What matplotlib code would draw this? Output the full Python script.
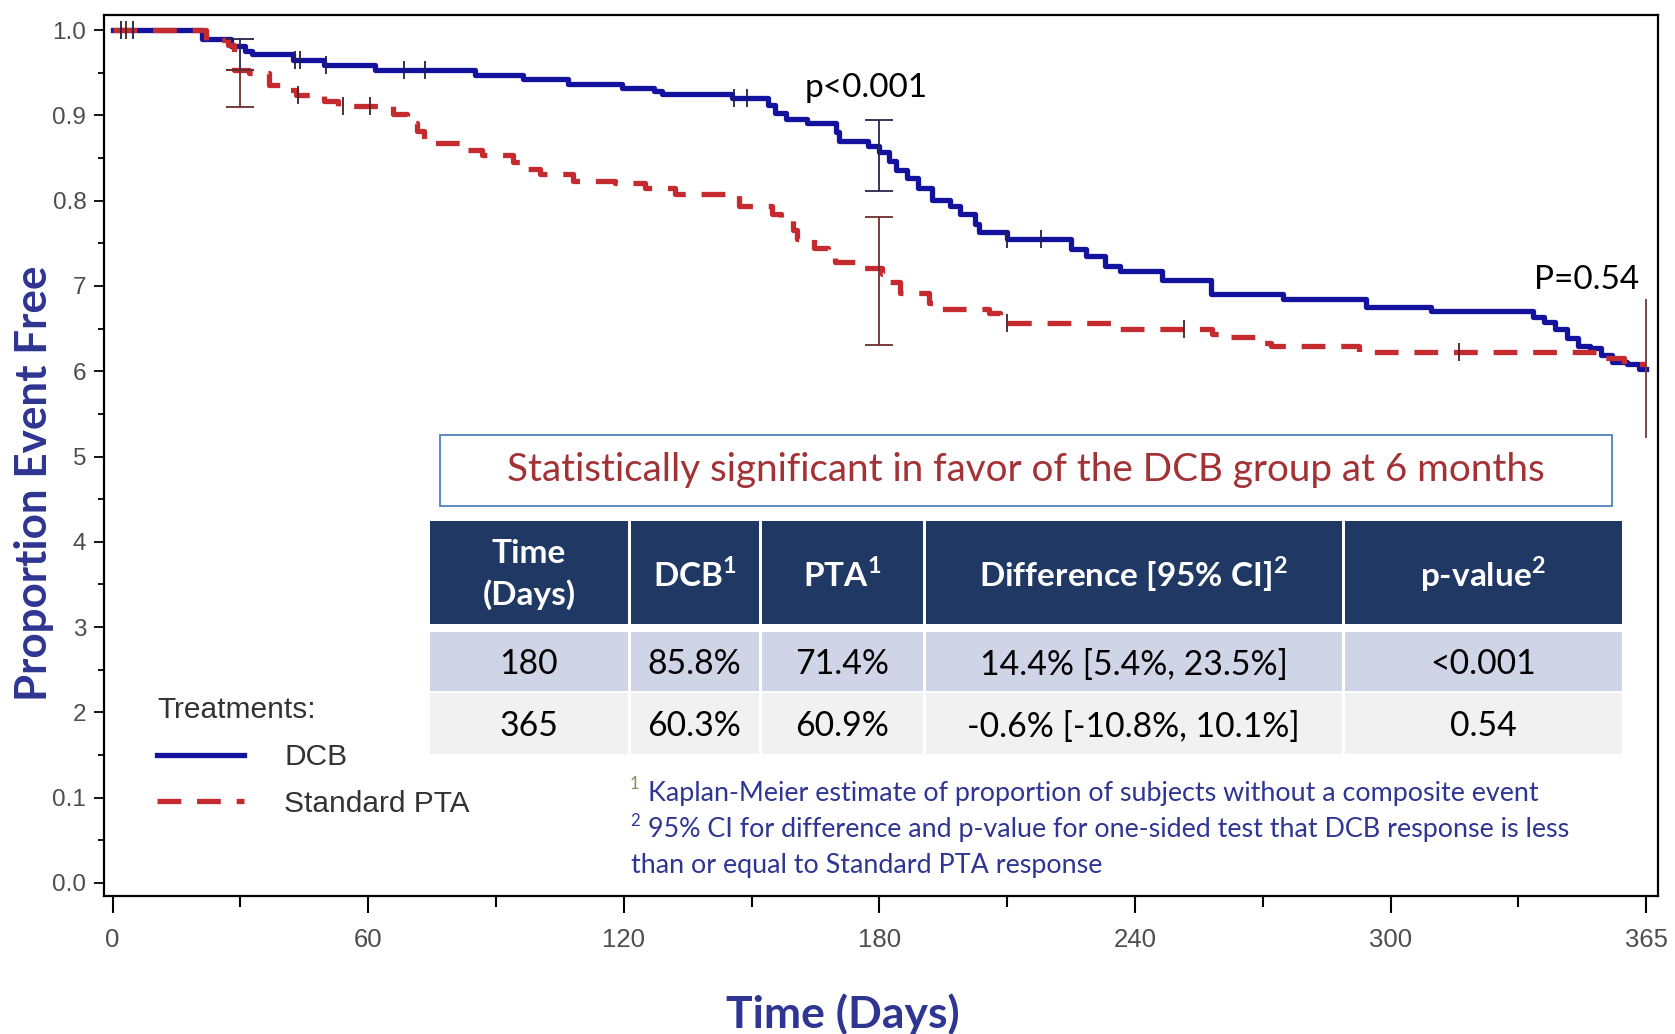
import matplotlib.pyplot as plt
import numpy as np
from matplotlib.lines import Line2D
from matplotlib.patches import Rectangle

plt.rcParams['font.family'] = 'Liberation Sans'
plt.rcParams['mathtext.fontset'] = 'custom'
plt.rcParams['mathtext.rm'] = 'Lato'
plt.rcParams['mathtext.bf'] = 'Lato:bold'

W, H = 1675, 1034

######################### dados #########################
# Kaplan-Meier DCB (dias, proporcao livre de evento)
dcb_days = [0, 21, 27.8, 31, 32.7, 42.3, 49.6, 61.7, 85, 96.4,
            107, 119.5, 127, 129, 145.5, 153.8, 155.5, 158, 163, 169.8,
            170.6, 177.3, 179.8, 182.3, 184, 186.5, 189, 192.4, 196.6, 199,
            202.5, 203.3, 210, 225, 228.5, 233, 236.5, 246.3, 257.8, 274.7,
            294.3, 309.4, 333.4, 336, 338.7, 341.4, 344, 346.7, 349.4, 352,
            355.6, 358.3, 360]
dcb_surv = [1.0, 0.990, 0.981, 0.975, 0.972, 0.965, 0.959, 0.953, 0.947, 0.942,
            0.937, 0.932, 0.928, 0.925, 0.920, 0.912, 0.903, 0.896, 0.891, 0.881,
            0.870, 0.864, 0.857, 0.846, 0.836, 0.827, 0.815, 0.801, 0.794, 0.784,
            0.772, 0.763, 0.755, 0.743, 0.735, 0.723, 0.717, 0.707, 0.691, 0.685,
            0.675, 0.670, 0.664, 0.658, 0.650, 0.639, 0.630, 0.627, 0.619, 0.611,
            0.609, 0.603, 0.603]

# Kaplan-Meier Standard PTA
pta_days = [0, 21.8, 27, 28.6, 31.9, 36.7, 40, 43, 49.6, 52.8,
            65.7, 69, 71.4, 73, 82.7, 86.7, 94, 95.6, 100.4, 108,
            118, 125, 132, 147, 154.7, 157, 159.7, 160.6, 164.7, 168,
            169.5, 174.8, 180.7, 182.3, 184.9, 191.6, 193.2, 205.8, 208.3, 210,
            234.7, 258, 262, 268.5, 272, 292.5, 349.5, 354.7, 360]
pta_surv = [1.0, 0.988, 0.983, 0.953, 0.950, 0.936, 0.930, 0.924, 0.917, 0.911,
            0.901, 0.891, 0.882, 0.868, 0.859, 0.853, 0.845, 0.837, 0.831, 0.823,
            0.821, 0.815, 0.808, 0.794, 0.784, 0.778, 0.765, 0.755, 0.745, 0.735,
            0.728, 0.721, 0.714, 0.705, 0.692, 0.680, 0.673, 0.668, 0.660, 0.656,
            0.649, 0.644, 0.640, 0.633, 0.629, 0.623, 0.615, 0.609, 0.609]

# censuras (dias)
dcb_cens = [2, 4.8, 42.7, 44, 50, 68.5, 73.4, 145.9, 148.8, 210, 218]
pta_cens = [3.2, 43.5, 54, 60.5, 210, 251.6, 316]

# intervalos de confianca
ci_days = [30, 180]
dcb_ci_low = [0.953, 0.811]
dcb_ci_high = [0.989, 0.894]
pta_ci_low = [0.910, 0.631]
pta_ci_high = [0.953, 0.781]
end_ci_day = 360
end_ci_low, end_ci_high = 0.522, 0.685

x_ticks = [0, 60, 120, 180, 240, 300, 360]
x_tick_labels = ['0', '60', '120', '180', '240', '300', '365']
y_ticks = [0.0, 0.1, 0.2, 0.3, 0.4, 0.5, 0.6, 0.7, 0.8, 0.9, 1.0]
y_tick_labels = ['0.0', '0.1', '2', '3', '4', '5', '6', '7', '0.8', '0.9', '1.0']

table_header = ['Time\n(Days)', r'DCB$^{\mathbf{1}}$', r'PTA$^{\mathbf{1}}$',
                r'Difference [95% CI]$^{\mathbf{2}}$', r'p-value$^{\mathbf{2}}$']
table_rows = [['180', '85.8%', '71.4%', '14.4% [5.4%, 23.5%]', '<0.001'],
              ['365', '60.3%', '60.9%', '-0.6% [-10.8%, 10.1%]', '0.54']]
##########################################################################

blue = '#12129E'
red = '#C42A2E'
navy_text = '#2E3592'

def step_at(days, surv, t):
    idx = np.searchsorted(days, t, side='right') - 1
    return np.asarray(surv)[idx]

def fx(px):
    return px / W

def fy(py):
    return 1 - py / H

fig = plt.figure(figsize=(W / 100, H / 100), dpi=100)
ax = fig.add_axes([0.0623, 0.1335, 0.9899 - 0.0623, 0.9855 - 0.1335])

ax.step(dcb_days, dcb_surv, where='post', color=blue, lw=3.8, zorder=3)
ax.step(pta_days, pta_surv, where='post', color=red, lw=3.8,
        linestyle=(0, (4.5, 3.0)), zorder=4)

ax.plot(dcb_cens, step_at(dcb_days, dcb_surv, dcb_cens), linestyle='none',
        marker='|', ms=13, mew=1.3, color='#20204a', zorder=5)
ax.plot(pta_cens, step_at(pta_days, pta_surv, pta_cens), linestyle='none',
        marker='|', ms=13, mew=1.3, color='#4a2020', zorder=5)

# barras de IC
dcb_mid = (np.array(dcb_ci_low) + np.array(dcb_ci_high)) / 2
pta_mid = (np.array(pta_ci_low) + np.array(pta_ci_high)) / 2
ax.errorbar(ci_days, dcb_mid, yerr=(dcb_mid - np.array(dcb_ci_low), np.array(dcb_ci_high) - dcb_mid),
            fmt='none', ecolor='#252550', elinewidth=1.3, capsize=10, capthick=1.3, zorder=6)
ax.errorbar(ci_days, pta_mid, yerr=(pta_mid - np.array(pta_ci_low), np.array(pta_ci_high) - pta_mid),
            fmt='none', ecolor='#6e2e2e', elinewidth=1.3, capsize=10, capthick=1.3, zorder=6)
ax.vlines(end_ci_day, end_ci_low, end_ci_high, color='#6e3a3a', lw=1.3, zorder=6)

ax.text(177, 0.932, 'p<0.001', family='Lato', fontsize=24, ha='center', va='center', color='black')
ax.text(346, 0.707, 'P=0.54', family='Lato', fontsize=24, ha='center', va='center', color='black')

ax.set_xlim(-1.95, 362.8)
ax.set_ylim(-0.0152, 1.0176)
ax.set_xticks(x_ticks)
ax.set_xticklabels(x_tick_labels)
ax.set_xticks([30, 90, 150, 210, 270, 330], minor=True)
ax.set_yticks(y_ticks)
ax.set_yticklabels(y_tick_labels)
ax.set_yticks([0.05, 0.15, 0.25, 0.35, 0.45, 0.55, 0.65, 0.75, 0.85, 0.95], minor=True)
ax.tick_params(axis='x', which='major', length=12, width=1.5, pad=11, labelsize=18.5, labelcolor='#4d4d4d')
ax.tick_params(axis='x', which='minor', length=8, width=1.5)
ax.tick_params(axis='y', which='major', length=7, width=1.3, pad=6, labelsize=17.5, labelcolor='#4d4d4d')
ax.tick_params(axis='y', which='minor', length=4, width=1.3)
for s in ax.spines.values():
    s.set_linewidth(1.6)

ax.set_xlabel('Time (Days)', family='Lato', fontweight='bold', fontsize=32, color=navy_text)
ax.set_ylabel('Proportion Event Free', family='Lato', fontweight='bold', fontsize=31.7, color=navy_text)
ax.xaxis.label.set_va('center')
ax.yaxis.label.set_va('center')
ax.xaxis.set_label_coords(0.475, -0.134)
ax.yaxis.set_label_coords(-0.0455, 0.468)

# legenda
handles = [Line2D([], [], color=blue, lw=3.8),
           Line2D([], [], color=red, lw=3.8, linestyle=(0, (4.5, 3.0)))]
leg = ax.legend(handles, ['DCB', 'Standard PTA'], title='Treatments:', loc='upper left',
                bbox_to_anchor=(10.5, 0.219), bbox_transform=ax.transData, frameon=False,
                prop={'family': 'Liberation Sans', 'size': 21.5},
                title_fontproperties={'family': 'Liberation Sans', 'size': 21.5},
                handlelength=2.9, handletextpad=1.35, labelspacing=0.63,
                borderpad=0, borderaxespad=0, alignment='left', labelcolor='#333333')
leg.get_title().set_color('#333333')

# caixa de destaque
fig.add_artist(Rectangle((fx(440), fy(506)), fx(1612 - 440), (506 - 435) / H,
                         transform=fig.transFigure, fill=False, edgecolor='#4F81BD', lw=1.3))
fig.text(fx(1026), fy(470.5), 'Statistically significant in favor of the DCB group at 6 months',
         family='Lato', fontsize=27.8, color='#A23235', ha='center', va='center')

# tabela
col_edges = [429, 629, 760, 924, 1343, 1623]
row_edges = [(521, 624), (632, 691), (693, 754)]
row_colors = ['#203864', '#CFD5E6', '#F1F1F1']
for r, (y0, y1) in enumerate(row_edges):
    texts = table_header if r == 0 else table_rows[r - 1]
    for c in range(len(col_edges) - 1):
        x0, x1 = col_edges[c], col_edges[c + 1]
        fig.add_artist(Rectangle((fx(x0 + 1.5), fy(y1)), (x1 - x0 - 3) / W, (y1 - y0) / H,
                                 transform=fig.transFigure, facecolor=row_colors[r], edgecolor='none'))
        if r == 0:
            fig.text(fx((x0 + x1) / 2), fy((y0 + y1) / 2 + 2), texts[c], family='Lato', fontweight='bold',
                     fontsize=24, color='white', ha='center', va='center', linespacing=1.45)
        else:
            fig.text(fx((x0 + x1) / 2), fy((y0 + y1) / 2 + 3), texts[c], family='Lato',
                     fontsize=24.3, color='black', ha='center', va='center')

# notas de rodape
foot_size = 19.4
fig.text(fx(630), fy(784), '1', family='Lato', fontsize=12, color='#8A8A50', ha='left', va='center')
fig.text(fx(648), fy(793), 'Kaplan-Meier estimate of proportion of subjects without a composite event',
         family='Lato', fontsize=foot_size, color=navy_text, ha='left', va='center')
fig.text(fx(630), fy(821), '2', family='Lato', fontsize=12, color=navy_text, ha='left', va='center')
fig.text(fx(648), fy(830), '95% CI for difference and p-value for one-sided test that DCB response is less',
         family='Lato', fontsize=foot_size, color=navy_text, ha='left', va='center')
fig.text(fx(631), fy(865), 'than or equal to Standard PTA response',
         family='Lato', fontsize=foot_size, color=navy_text, ha='left', va='center')

plt.savefig('out.png', dpi=100, facecolor='white')
